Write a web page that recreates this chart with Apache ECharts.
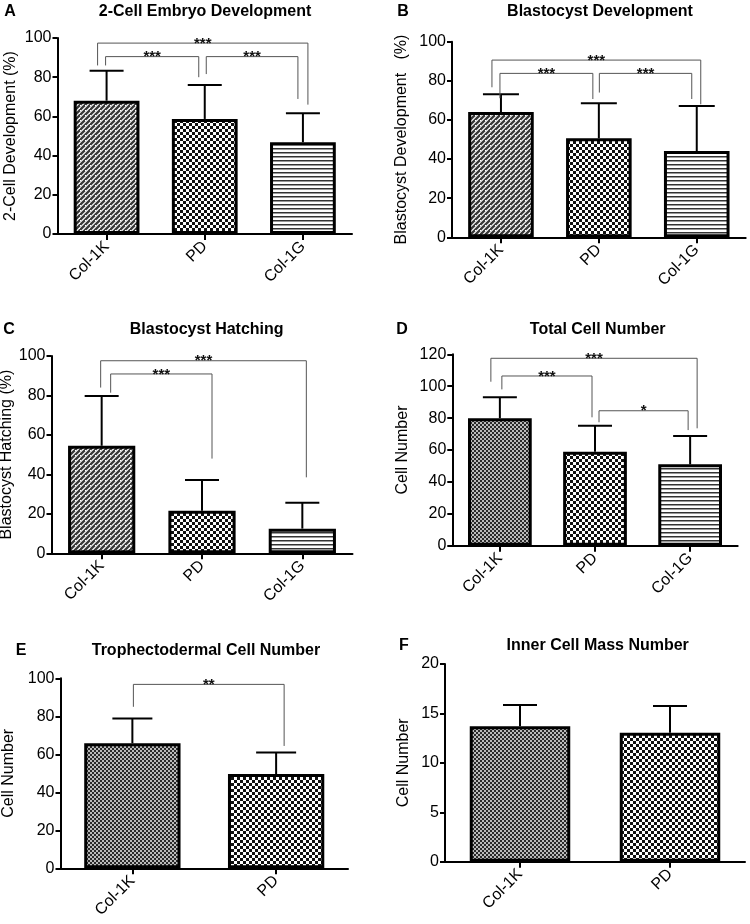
<!DOCTYPE html>
<html><head><meta charset="utf-8">
<script src="https://cdn.jsdelivr.net/npm/echarts@6/dist/echarts.min.js"></script>
<style>html,body{margin:0;padding:0;background:#fff}#c{width:750px;height:924px}</style>
</head><body><div id="c"></div>
<script>
// ---------- data ----------
const catsThree = ['Col-1K', 'PD', 'Col-1G'];
const catsTwo = ['Col-1K', 'PD'];

const meanA = [68, 58.7, 46.8];
const upperA = [83.3, 76, 61.6];
const meanB = [64, 50.6, 44.1];
const upperB = [73.1, 68.5, 67.1];
const meanC = [54.5, 21.6, 12.5];
const upperC = [79.7, 37.2, 25.6];
const meanD = [79.9, 58.9, 51];
const upperD = [93, 75.2, 68.8];
const meanE = [65.8, 49.6];
const upperE = [78.9, 60.9];
const meanF = [13.7, 13.05];
const upperF = [15.85, 15.75];

const ticksPct = [0, 20, 40, 60, 80, 100];
const ticksD = [0, 20, 40, 60, 80, 100, 120];
const ticksE = [0, 20, 40, 60, 80, 100];
const ticksF = [0, 5, 10, 15, 20];

// significance: [fromCat, toCat, bracketY, leftLegEndY, rightLegEndY, label]
const sigA = [[0, 2, 97.4, 86, 66, '***'], [0, 1, 90.5, 86, 80, '***'], [1, 2, 90.5, 81.6, 68.9, '***']];
const sigB = [[0, 2, 90.6, 76.7, 68, '***'], [0, 1, 83.8, 71.1, 70.7, '***'], [1, 2, 83.8, 74, 70.7, '***']];
const sigC = [[0, 2, 97.6, 84, 38.5, '***'], [0, 1, 90.9, 81.4, 48, '***']];
const sigD = [[0, 2, 117.5, 102.8, 73.6, '***'], [0, 1, 106.4, 98, 80.5, '***'], [1, 2, 84.6, 77.4, 72.5, '*']];
const sigE = [[0, 1, 96.8, 85, 64.4, '**']];

// ---------- styles ----------
const FONT = '"Liberation Sans", Arial, sans-serif';
// leg x-offsets in px relative to category centres (style only)
const legOffA = [[-9, 5], [-1, -6], [1.5, -5]];
const legOffB = [[-9, 4], [-1, -6], [0.5, -5]];
const legOffC = [[-1, 4], [9, 10]];
const legOffD = [[-9, 7], [2, -3], [4, -2]];
const legOffE = [[1, 8]];

function tile(w, h, draw) {
  const c = document.createElement('canvas');
  c.width = w; c.height = h;
  const x = c.getContext('2d');
  x.fillStyle = '#fff'; x.fillRect(0, 0, w, h);
  draw(x);
  return { image: c, repeat: 'repeat' };
}
const patWave = tile(10, 10, (x) => {
  x.strokeStyle = '#383838'; x.lineWidth = 2.3;
  for (let c = -10; c <= 30; c += 5) {
    x.beginPath(); x.moveTo(c + 2, -2); x.lineTo(c - 12, 12); x.stroke();
  }
  // small breaks giving a wavy chain look
  x.fillStyle = '#fff';
  for (let c = 0; c <= 20; c += 5) {
    for (let t = 0; t < 10; t += 5) {
      const px = (c - t + 20) % 10, py = t;
      x.fillRect(px, py, 1, 1);
    }
  }
});
const patChecker = tile(6, 6, (x) => {
  x.fillStyle = '#111'; x.fillRect(0, 0, 3, 3); x.fillRect(3, 3, 3, 3);
});
const patFine = tile(4, 4, (x) => {
  x.fillStyle = '#2a2a2a'; x.fillRect(0, 0, 2, 2); x.fillRect(2, 2, 2, 2);
  x.fillStyle = '#bbb'; x.fillRect(2, 0, 2, 2); x.fillRect(0, 2, 2, 2);
});
const patLines = tile(4, 4, (x) => {
  x.fillStyle = '#333'; x.fillRect(0, 0, 4, 1);
  x.fillStyle = '#999'; x.fillRect(0, 1, 4, 1);
});

const grids = [
  { left: 57.5, top: 38, width: 294.5, height: 196 },
  { left: 452, top: 41.7, width: 293.7, height: 195.6 },
  { left: 51.5, top: 356, width: 301, height: 197.3 },
  { left: 452.3, top: 354.3, width: 285.4, height: 191.4 },
  { left: 60.5, top: 678.3, width: 287.5, height: 190 },
  { left: 445, top: 664, width: 300, height: 197.7 }
].map(g => Object.assign({ containLabel: false, outerBoundsMode: 'none' }, g));

function xAx(gi, cats) {
  return {
    type: 'category', gridIndex: gi, data: cats,
    axisLine: { show: true, lineStyle: { color: '#000', width: 2 } },
    axisTick: { show: true, alignWithLabel: true, length: 6, lineStyle: { color: '#000', width: 2 } },
    axisLabel: { rotate: 45, color: '#000', fontSize: 16, fontFamily: FONT, margin: 10 },
    splitLine: { show: false }
  };
}
function yAx(gi, ticks, name, gap) {
  return {
    type: 'value', gridIndex: gi, min: ticks[0], max: ticks[ticks.length - 1], interval: ticks[1] - ticks[0],
    splitLine: { show: false },
    axisLine: { show: true, lineStyle: { color: '#000', width: 2 } },
    axisTick: { show: true, length: 5, lineStyle: { color: '#000', width: 2 } },
    axisLabel: { color: '#000', fontSize: 16, fontFamily: FONT, margin: 6 },
    name: name, nameLocation: 'middle', nameGap: gap, nameRotate: 90,
    nameTextStyle: { color: '#000', fontSize: 16, fontFamily: FONT }
  };
}
function barSeries(gi, means, pats) {
  return {
    type: 'bar', xAxisIndex: gi, yAxisIndex: gi, barWidth: '67%', silent: true, z: 2,
    data: means.map((v, i) => ({ value: v, itemStyle: { color: pats[i] } })),
    itemStyle: { borderColor: '#000', borderWidth: 3 }
  };
}
function errSeries(gi, means, uppers, capHalf) {
  return {
    type: 'custom', xAxisIndex: gi, yAxisIndex: gi, z: 3, silent: true,
    data: means.map((m, i) => [i, m, uppers[i]]),
    renderItem: (params, api) => {
      const p0 = api.coord([api.value(0), api.value(1)]);
      const p1 = api.coord([api.value(0), api.value(2)]);
      return {
        type: 'group', children: [
          { type: 'line', shape: { x1: p0[0], y1: p0[1], x2: p1[0], y2: p1[1] }, style: { stroke: '#000', lineWidth: 2 } },
          { type: 'line', shape: { x1: p1[0] - capHalf, y1: p1[1], x2: p1[0] + capHalf, y2: p1[1] }, style: { stroke: '#000', lineWidth: 2 } }
        ]
      };
    }
  };
}
function sigSeries(gi, sigs, offs) {
  return {
    type: 'custom', xAxisIndex: gi, yAxisIndex: gi, z: 4, silent: true, clip: false,
    data: sigs.map(s => [s[0], s[2], s[1], s[3], s[4]]),
    renderItem: (params, api) => {
      const s = sigs[params.dataIndex];
      const o = offs[params.dataIndex];
      const a = api.coord([s[0], s[2]]);
      const b = api.coord([s[1], s[2]]);
      const yl = api.coord([s[0], s[3]])[1];
      const yr = api.coord([s[1], s[4]])[1];
      const xl = a[0] + o[0], xr = b[0] + o[1];
      return {
        type: 'group', children: [
          { type: 'polyline', shape: { points: [[xl, yl], [xl, a[1]], [xr, a[1]], [xr, yr]] }, style: { stroke: '#555', lineWidth: 1, fill: null } },
          { type: 'text', x: (xl + xr) / 2, y: a[1] + 0.5, style: { text: s[5], fill: '#111', font: 'bold 15px ' + FONT, align: 'center', verticalAlign: 'middle' } }
        ]
      };
    }
  };
}
function label(txt, x, y) {
  return { type: 'text', x: x, y: y, silent: true, style: { text: txt, fill: '#000', font: 'bold 16px ' + FONT, align: 'center', verticalAlign: 'middle' } };
}

const threePats = [patWave, patChecker, patLines];
const threePatsFine = [patFine, patChecker, patLines];
const twoPats = [patFine, patChecker];

const option = {
  backgroundColor: '#fff',
  animation: false,
  grid: grids,
  xAxis: [xAx(0, catsThree), xAx(1, catsThree), xAx(2, catsThree), xAx(3, catsThree), xAx(4, catsTwo), xAx(5, catsTwo)],
  yAxis: [
    yAx(0, ticksPct, '2-Cell Development (%)', 39),
    yAx(1, ticksPct, 'Blastocyst Development   (%)', 42),
    yAx(2, ticksPct, 'Blastocyst Hatching (%)', 34),
    yAx(3, ticksD, 'Cell Number', 42),
    yAx(4, ticksE, 'Cell Number', 44),
    yAx(5, ticksF, 'Cell Number', 33)
  ],
  series: [
    barSeries(0, meanA, threePats), errSeries(0, meanA, upperA, 17), sigSeries(0, sigA, legOffA),
    barSeries(1, meanB, threePats), errSeries(1, meanB, upperB, 18), sigSeries(1, sigB, legOffB),
    barSeries(2, meanC, threePats), errSeries(2, meanC, upperC, 17), sigSeries(2, sigC, legOffC),
    barSeries(3, meanD, threePatsFine), errSeries(3, meanD, upperD, 17), sigSeries(3, sigD, legOffD),
    barSeries(4, meanE, twoPats), errSeries(4, meanE, upperE, 20), sigSeries(4, sigE, legOffE),
    barSeries(5, meanF, twoPats), errSeries(5, meanF, upperF, 17)
  ],
  graphic: [
    label('A', 10, 11.5), label('2-Cell Embryo Development', 205, 11.5),
    label('B', 403, 12), label('Blastocyst Development', 600, 12),
    label('C', 9, 330), label('Blastocyst Hatching', 206.7, 330),
    label('D', 402, 329.5), label('Total Cell Number', 597.7, 329.5),
    label('E', 21, 651), label('Trophectodermal Cell Number', 206, 651),
    label('F', 404, 645.5), label('Inner Cell Mass Number', 597.7, 645.5)
  ]
};
const chart = echarts.init(document.getElementById('c'), null, { renderer: 'canvas' });
chart.setOption(option);
</script>
</body></html>
